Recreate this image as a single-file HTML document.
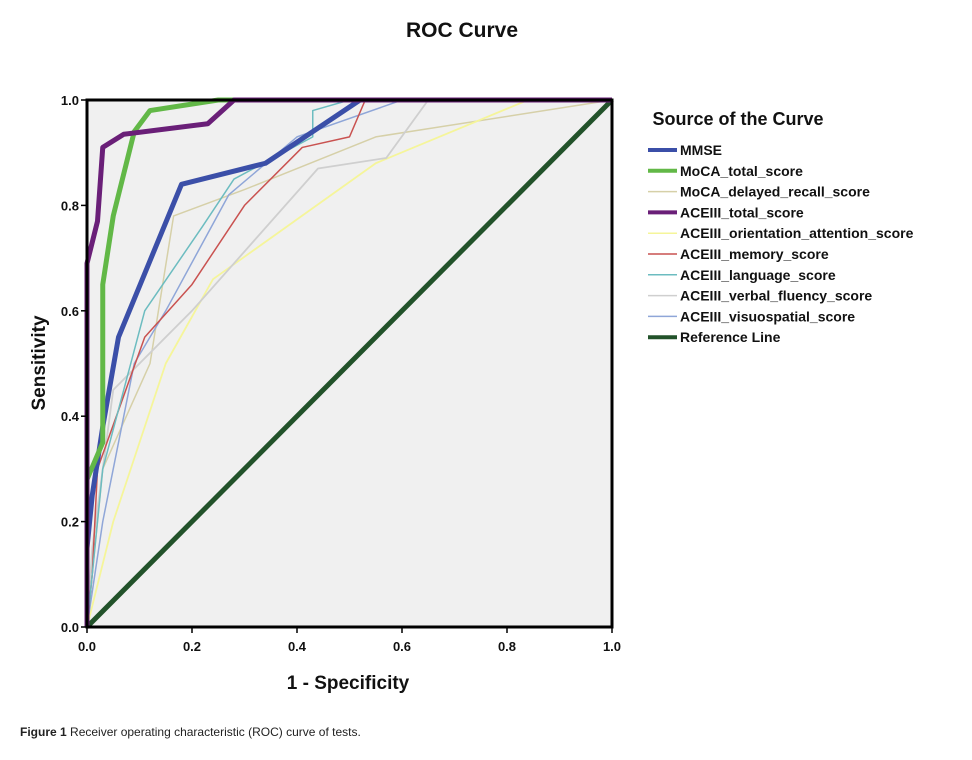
<!DOCTYPE html>
<html><head><meta charset="utf-8"><style>
body{margin:0;background:#fff;width:972px;height:755px;overflow:hidden;font-family:"Liberation Sans",Arial,sans-serif}
</style></head><body>
<svg width="972" height="755" font-family="Liberation Sans, Arial, sans-serif">
<text x="462" y="37" text-anchor="middle" font-size="21" font-weight="bold" fill="#111">ROC Curve</text>
<rect x="87" y="100" width="525" height="527" fill="#f0f0f0"/>
<g id="series"></g>
<rect x="87" y="100" width="525" height="527" fill="none" stroke="#000" stroke-width="3"/>
<g id="axes"></g>
<text x="348" y="689" text-anchor="middle" font-size="19" font-weight="bold" fill="#111">1 - Specificity</text>
<text transform="translate(45,363) rotate(-90)" text-anchor="middle" font-size="19" font-weight="bold" fill="#111">Sensitivity</text>
<text x="738" y="125" text-anchor="middle" font-size="18" font-weight="bold" fill="#111">Source of the Curve</text>
<g id="legend"></g>
<text x="20" y="736" font-size="12" fill="#222"><tspan font-weight="bold">Figure 1</tspan> Receiver operating characteristic (ROC) curve of tests.</text>
</svg>
<script>
const names=["MMSE","MoCA_total_score","MoCA_delayed_recall_score","ACEIII_total_score","ACEIII_orientation_attention_score","ACEIII_memory_score","ACEIII_language_score","ACEIII_verbal_fluency_score","ACEIII_visuospatial_score","Reference Line"];
const colors=["#3b4fa8","#62b847","#d6d0a8","#6a1f78","#f5f59a","#c95250","#6cbcc0","#cfcfcf","#8fa6d8","#22522a"];
const widths=[5,5,1.5,5,1.8,1.5,1.5,1.8,1.5,5];
const mmse=[[0,0],[0,0.15],[0.01,0.25],[0.03,0.38],[0.06,0.55],[0.18,0.84],[0.34,0.88],[0.52,1],[1,1]];
const mocaTotal=[[0,0],[0,0.28],[0.03,0.35],[0.03,0.65],[0.05,0.78],[0.09,0.94],[0.12,0.98],[0.25,1],[1,1]];
const mocaRecall=[[0,0],[0.03,0.3],[0.12,0.5],[0.165,0.78],[0.3,0.83],[0.55,0.93],[1,1]];
const aceTotal=[[0,0],[0,0.69],[0.02,0.77],[0.03,0.91],[0.07,0.935],[0.23,0.955],[0.28,1],[1,1]];
const aceOrient=[[0,0],[0.05,0.2],[0.15,0.5],[0.24,0.66],[0.55,0.88],[0.84,1],[1,1]];
const aceMemory=[[0,0],[0.01,0.1],[0.02,0.3],[0.11,0.55],[0.2,0.65],[0.3,0.8],[0.41,0.91],[0.5,0.93],[0.53,1],[1,1]];
const aceLanguage=[[0,0],[0.03,0.3],[0.11,0.6],[0.22,0.76],[0.28,0.85],[0.43,0.93],[0.43,0.98],[0.5,1],[1,1]];
const aceFluency=[[0,0],[0.01,0.15],[0.05,0.45],[0.2,0.6],[0.44,0.87],[0.57,0.89],[0.65,1],[1,1]];
const aceVisuo=[[0,0],[0.03,0.2],[0.09,0.5],[0.15,0.6],[0.27,0.82],[0.4,0.93],[0.6,1],[1,1]];
const refLine=[[0,0],[1,1]];
const ticks=[0,0.2,0.4,0.6,0.8,1.0];
const tickLabels=["0.0","0.2","0.4","0.6","0.8","1.0"];
const allSeries=[mmse,mocaTotal,mocaRecall,aceTotal,aceOrient,aceMemory,aceLanguage,aceFluency,aceVisuo,refLine];
const drawOrder=[9,2,4,7,8,5,6,0,1,3];
const NS="http://www.w3.org/2000/svg";
const X=v=>87+v*525, Y=v=>627-v*527;
const sg=document.getElementById('series');
drawOrder.forEach(i=>{
 const p=document.createElementNS(NS,'polyline');
 p.setAttribute('points',allSeries[i].map(d=>X(d[0])+','+Y(d[1])).join(' '));
 p.setAttribute('fill','none');p.setAttribute('stroke',colors[i]);p.setAttribute('stroke-width',widths[i]);p.setAttribute('stroke-linejoin','round');
 
 
 sg.appendChild(p);
});
const ax=document.getElementById('axes');
ticks.forEach((t,k)=>{
 const l1=document.createElementNS(NS,'line');
 l1.setAttribute('x1',X(t));l1.setAttribute('x2',X(t));l1.setAttribute('y1',627);l1.setAttribute('y2',633);l1.setAttribute('stroke','#000');l1.setAttribute('stroke-width',1.5);
 
 
 ax.appendChild(l1);
 const tx=document.createElementNS(NS,'text');
 tx.setAttribute('x',X(t));tx.setAttribute('y',651);tx.setAttribute('text-anchor','middle');tx.setAttribute('font-size',13);tx.setAttribute('font-weight','bold');tx.setAttribute('fill','#111');
 tx.textContent=tickLabels[k];
 
 
 ax.appendChild(tx);
 const l2=document.createElementNS(NS,'line');
 l2.setAttribute('x1',81);l2.setAttribute('x2',87);l2.setAttribute('y1',Y(t));l2.setAttribute('y2',Y(t));l2.setAttribute('stroke','#000');l2.setAttribute('stroke-width',1.5);
 
 
 ax.appendChild(l2);
 const ty=document.createElementNS(NS,'text');
 ty.setAttribute('x',79);ty.setAttribute('y',Y(t)+5);ty.setAttribute('text-anchor','end');ty.setAttribute('font-size',13);ty.setAttribute('font-weight','bold');ty.setAttribute('fill','#111');
 ty.textContent=tickLabels[k];
 
 
 ax.appendChild(ty);
});
const lg=document.getElementById('legend');
names.forEach((n,i)=>{
 const y=150+i*20.8;
 const s=document.createElementNS(NS,'line');
 s.setAttribute('x1',648);s.setAttribute('x2',677);s.setAttribute('y1',y);s.setAttribute('y2',y);s.setAttribute('stroke',colors[i]);s.setAttribute('stroke-width',widths[i]>3?4:1.5);
 
 
 lg.appendChild(s);
 const t=document.createElementNS(NS,'text');
 t.setAttribute('x',680);t.setAttribute('y',y+5);t.setAttribute('font-size',14);t.setAttribute('font-weight','bold');t.setAttribute('fill','#111');
 t.textContent=n;
 
 
 lg.appendChild(t);
});
</script>
</body></html>
